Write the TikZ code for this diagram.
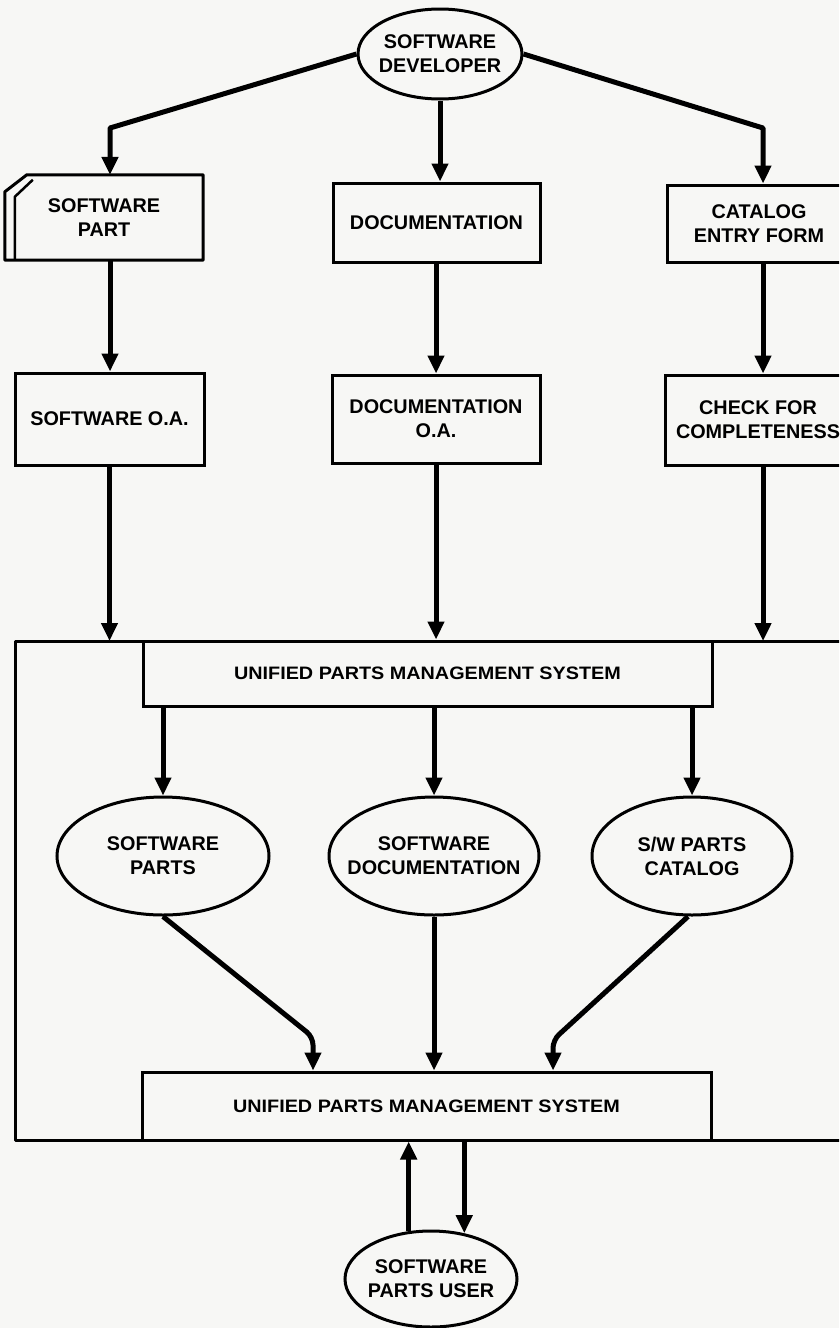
\documentclass[tikz,border=0pt]{standalone}
\usepackage{fontspec}
\usepackage{graphicx}
\setmainfont{Liberation Sans}
\usetikzlibrary{arrows.meta,shapes.geometric,calc}
\definecolor{paper}{RGB}{247,247,245}
\begin{document}
\begin{tikzpicture}[x=1pt,y=-1pt,
  txt/.style={font=\bfseries\fontsize{19.8}{24}\selectfont, align=center},
  upmstxt/.style={font=\bfseries\fontsize{18}{21}\selectfont},
  box/.style={draw, rectangle, line width=3pt, inner sep=0pt, txt},
  oval/.style={draw, ellipse, line width=3pt, inner xsep=-60pt, inner ysep=-30pt, txt},
  flow/.style={line width=5pt, -{Triangle[length=18pt,width=16pt]}},
  frame/.style={line width=3pt, line join=round}]
\fill[paper] (0,0) rectangle (839,1328);
\useasboundingbox (0,0) rectangle (839,1328);
\clip (0,0) rectangle (839,1328);

% top
\node[oval, minimum width=164pt, minimum height=90pt] (dev) at (440,54) {SOFTWARE\\DEVELOPER};

% row 1
\node[txt, minimum width=198pt, minimum height=85pt, inner sep=0pt] (sp) at (104,217.5) {SOFTWARE\\PART};
\draw[frame] (sp.south west) -- ($(sp.north west)+(0,17)$) -- ($(sp.north west)+(22,0)$)
  -- (sp.north east) -- (sp.south east) -- cycle;
\draw[line width=2.5pt, line join=round] ($(sp.south west)+(10,0)$) -- ($(sp.north west)+(10,22)$) -- ($(sp.north west)+(28,5)$);
\node[box, minimum width=207pt, minimum height=79pt] (doc) at (436.5,222.5) {DOCUMENTATION};
\node[box, minimum width=184pt, minimum height=77pt] (cat) at (759,223.5) {CATALOG\\ENTRY FORM};

% row 2
\node[box, minimum width=189pt, minimum height=92pt] (swqa) at (109.5,419) {SOFTWARE O.A.};
\node[box, minimum width=208pt, minimum height=88pt] (docqa) at (436,419) {DOCUMENTATION\\O.A.};
\node[box, minimum width=186pt, minimum height=90pt] (chk) at (758,420) {CHECK FOR\\COMPLETENESS};

% outer system frame
\coordinate (outerNW) at (15,641);
\draw[frame] (outerNW) rectangle (880,1140);
\node[box, upmstxt, minimum width=569pt, minimum height=65pt] (upms1) at (427.5,673.5) {\scalebox{1.1}[1]{UNIFIED PARTS MANAGEMENT SYSTEM}};

\node[oval, minimum width=212pt, minimum height=118pt] (parts) at (163,856) {SOFTWARE\\PARTS};
\node[oval, minimum width=210pt, minimum height=118pt] (swdoc) at (434,856) {SOFTWARE\\DOCUMENTATION};
\node[oval, minimum width=200pt, minimum height=118pt] (swcat) at (692,856) {S/W PARTS\\CATALOG};

\node[box, upmstxt, minimum width=569pt, minimum height=68pt] (upms2) at (426.5,1106) {\scalebox{1.1}[1]{UNIFIED PARTS MANAGEMENT SYSTEM}};

\node[oval, minimum width=172pt, minimum height=96pt] (user) at (431,1279) {SOFTWARE\\PARTS USER};

% connectors: developer
\coordinate (bl) at (110,128);
\coordinate (br) at (763,128);
\draw[flow, line join=round] (dev.west) -- (bl) -- (bl |- sp.north);
\draw[flow, line join=round] (dev.east) -- (br) -- (br |- cat.north);
\draw[flow] (dev.south) -- (dev.south |- doc.north);

% row1 -> row2
\draw[flow] (bl |- sp.south) -- (bl |- swqa.north);
\draw[flow] (docqa.north |- doc.south) -- (docqa.north);
\draw[flow] (br |- cat.south) -- (br |- chk.north);

% row2 -> system
\draw[flow] (swqa.south) -- (swqa.south |- outerNW);
\draw[flow] (docqa.south) -- (docqa.south |- upms1.north);
\draw[flow] (br |- chk.south) -- (br |- outerNW);

% system -> stores
\draw[flow] (parts.north |- upms1.south) -- (parts.north);
\draw[flow] (swdoc.north |- upms1.south) -- (swdoc.north);
\draw[flow] (swcat.north |- upms1.south) -- (swcat.north);

% stores -> system
\coordinate (c1) at (313,1037);
\coordinate (c3) at (553,1040);
\draw[flow, rounded corners=8pt] (parts.south) -- (c1) -- (c1 |- upms2.north);
\draw[flow] (swdoc.south) -- (swdoc.south |- upms2.north);
\draw[flow, rounded corners=8pt] ($(swcat.south)+(-4,0)$) -- (c3) -- (c3 |- upms2.north);

% user
\draw[flow] (user.115) -- (user.115 |- upms2.south);
\draw[flow] (user.54 |- upms2.south) -- (user.54);
\end{tikzpicture}
\end{document}
